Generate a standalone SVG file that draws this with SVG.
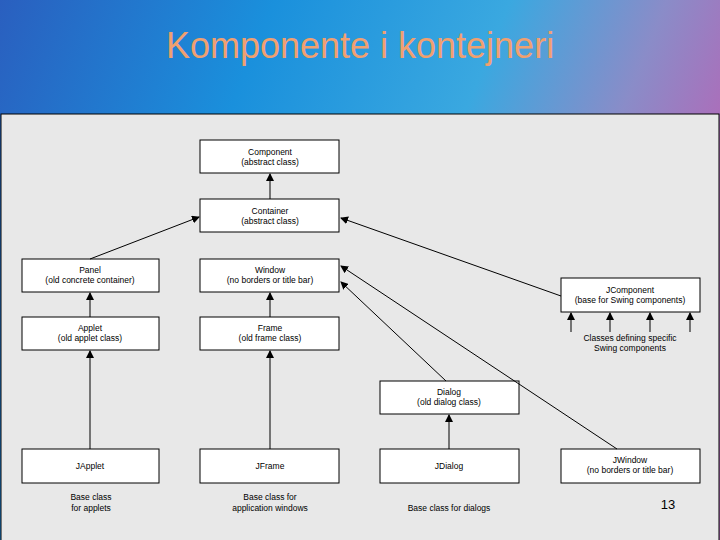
<svg xmlns="http://www.w3.org/2000/svg" width="720" height="540" viewBox="0 0 720 540">
<defs>
<linearGradient id="bg" x1="0" y1="0" x2="1" y2="0.3">
<stop offset="0" stop-color="#2a5fbf"/><stop offset="0.35" stop-color="#1a90dc"/><stop offset="0.65" stop-color="#3aa8e0"/><stop offset="0.85" stop-color="#8a8cc8"/><stop offset="1" stop-color="#b06ab8"/>
</linearGradient>
<marker id="ah" markerWidth="8" markerHeight="8" refX="7" refY="4" orient="auto" markerUnits="userSpaceOnUse"><path d="M0,0 L8,4 L0,8 Z" fill="#000"/></marker>
<style>
.b{fill:#fff;stroke:#000;stroke-width:1}
.t{font-family:"Liberation Sans",Arial,sans-serif;font-size:8.5px;text-anchor:middle;fill:#000}
.c line{stroke:#000;stroke-width:1;marker-end:url(#ah)}
</style>
</defs>
<rect width="720" height="540" fill="url(#bg)"/>
<text x="360" y="58" font-family="Liberation Sans,Arial,sans-serif" font-size="36" fill="#f0a070" text-anchor="middle">Komponente i kontejneri</text>
<rect x="1" y="114" width="718" height="430" fill="#e8e8e8" stroke="#000"/>
<g id="component"><rect class="b" x="200" y="140" width="139" height="33"/><text class="t" x="270" y="155">Component</text><text class="t" x="270" y="165">(abstract class)</text></g>
<g id="container"><rect class="b" x="200" y="199" width="139" height="33"/><text class="t" x="270" y="214">Container</text><text class="t" x="270" y="224">(abstract class)</text></g>
<g id="panel"><rect class="b" x="22" y="259" width="137" height="33"/><text class="t" x="90" y="273">Panel</text><text class="t" x="90" y="283">(old concrete container)</text></g>
<g id="window"><rect class="b" x="200" y="259" width="139" height="33"/><text class="t" x="270" y="273">Window</text><text class="t" x="270" y="283">(no borders or title bar)</text></g>
<g id="jcomponent"><rect class="b" x="561" y="278" width="139" height="34"/><text class="t" x="630" y="293">JComponent</text><text class="t" x="630" y="303">(base for Swing components)</text></g>
<g id="applet"><rect class="b" x="22" y="317" width="137" height="33"/><text class="t" x="90" y="331">Applet</text><text class="t" x="90" y="341">(old applet class)</text></g>
<g id="frame"><rect class="b" x="200" y="317" width="139" height="33"/><text class="t" x="270" y="331">Frame</text><text class="t" x="270" y="341">(old frame class)</text></g>
<g id="dialog"><rect class="b" x="380" y="381" width="139" height="33"/><text class="t" x="449" y="395">Dialog</text><text class="t" x="449" y="405">(old dialog class)</text></g>
<g id="japplet"><rect class="b" x="22" y="449" width="137" height="34"/><text class="t" x="90" y="469">JApplet</text></g>
<g id="jframe"><rect class="b" x="200" y="449" width="139" height="34"/><text class="t" x="270" y="469">JFrame</text></g>
<g id="jdialog"><rect class="b" x="380" y="449" width="139" height="34"/><text class="t" x="449" y="469">JDialog</text></g>
<g id="jwindow"><rect class="b" x="561" y="449" width="139" height="34"/><text class="t" x="630" y="463">JWindow</text><text class="t" x="630" y="473">(no borders or title bar)</text></g>
<g class="c">
<line x1="270" y1="199" x2="270" y2="174"/>
<line x1="90" y1="259" x2="199" y2="217"/>
<line x1="561" y1="296" x2="341" y2="218"/>
<line x1="446" y1="381" x2="341" y2="282"/>
<line x1="617" y1="449" x2="341" y2="266"/>
<line x1="270" y1="317" x2="270" y2="293"/>
<line x1="90" y1="317" x2="90" y2="293"/>
<line x1="90" y1="449" x2="90" y2="351"/>
<line x1="270" y1="449" x2="270" y2="351"/>
<line x1="449" y1="449" x2="449" y2="415"/>
<line x1="571" y1="332" x2="571" y2="313"/>
<line x1="610" y1="332" x2="610" y2="313"/>
<line x1="650" y1="332" x2="650" y2="313"/>
<line x1="690" y1="332" x2="690" y2="313"/>
</g>
<text class="t" x="630" y="341">Classes defining specific</text>
<text class="t" x="630" y="351">Swing components</text>
<text class="t" x="91" y="500">Base class</text><text class="t" x="91" y="511">for applets</text>
<text class="t" x="270" y="500">Base class for</text><text class="t" x="270" y="511">application windows</text>
<text class="t" x="449" y="511">Base class for dialogs</text>
<text x="668" y="509" font-family="Liberation Sans,Arial,sans-serif" font-size="13" text-anchor="middle" fill="#000">13</text>
</svg>
